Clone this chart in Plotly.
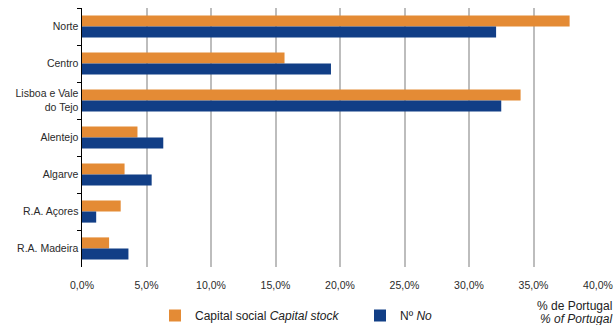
import plotly.graph_objects as go

categories = ["Norte", "Centro", "Lisboa e Vale<br>do Tejo", "Alentejo", "Algarve", "R.A. Açores", "R.A. Madeira"]
capital_social = [37.8, 15.7, 34.0, 4.3, 3.3, 3.0, 2.1]
numero = [32.1, 19.3, 32.5, 6.3, 5.4, 1.1, 3.6]
tick_vals = [0, 5, 10, 15, 20, 25, 30, 35, 40]
tick_text = ["0,0%", "5,0%", "10,0%", "15,0%", "20,0%", "25,0%", "30,0%", "35,0%", "40,0%"]
unit_lines = ["% de Portugal", "<i>% of Portugal</i>"]

ORANGE = "#E48B35"
BLUE = "#113E86"
FONT = "Liberation Sans, Arial, sans-serif"

fig = go.Figure()
fig.add_trace(go.Bar(y=categories, x=capital_social, orientation="h",
                     name="Capital social <i>Capital stock</i>",
                     marker=dict(color=ORANGE, line=dict(width=0))))
fig.add_trace(go.Bar(y=categories, x=numero, orientation="h",
                     name="Nº <i>No</i>",
                     marker=dict(color=BLUE, line=dict(width=0))))

fig.update_layout(
    width=615, height=325,
    margin=dict(l=82, r=17, t=8, b=58, autoexpand=False),
    paper_bgcolor="white", plot_bgcolor="white",
    barmode="group", bargap=0.4, bargroupgap=0,
    hovermode=False,
    font=dict(family=FONT, size=10.5, color="#2a2a2a"),
    showlegend=True,
    legend=dict(orientation="h", xref="container", yref="container",
                x=155 / 615, xanchor="left", y=1 - 301 / 325, yanchor="top",
                font=dict(size=12, color="#222222"), traceorder="normal",
                entrywidth=160, entrywidthmode="pixels",
                bgcolor="rgba(0,0,0,0)", itemclick=False),
    xaxis=dict(range=[0, 40], tickvals=tick_vals, ticktext=tick_text,
               showgrid=True, gridcolor="#BDBDBD", gridwidth=2,
               zeroline=False, showline=False, ticks="outside", ticklen=8,
               tickcolor="rgba(0,0,0,0)", automargin=False,
               tickfont=dict(size=10.5, color="#2a2a2a"), fixedrange=True),
    yaxis=dict(autorange="reversed", showline=True, linecolor="black", linewidth=1.5,
               ticks="outside", tickson="boundaries", ticklen=4, tickcolor="black",
               tickwidth=1, showgrid=False, zeroline=False, automargin=False,
               tickfont=dict(size=10.5, color="#2a2a2a"), fixedrange=True),
    annotations=[
        dict(xref="paper", yref="paper", x=1.0, xshift=16, y=-39 / 259, xanchor="right", yanchor="middle",
             text=unit_lines[0], showarrow=False, align="right",
             font=dict(size=12, color="#222222")),
        dict(xref="paper", yref="paper", x=1.0, xshift=16, y=-51.5 / 259, xanchor="right", yanchor="middle",
             text=unit_lines[1], showarrow=False, align="right",
             font=dict(size=12, color="#222222")),
    ],
)

fig.write_html("out.html", config={"displayModeBar": False, "staticPlot": True},
               post_script="document.body.style.margin='0';document.body.style.overflow='hidden';")
